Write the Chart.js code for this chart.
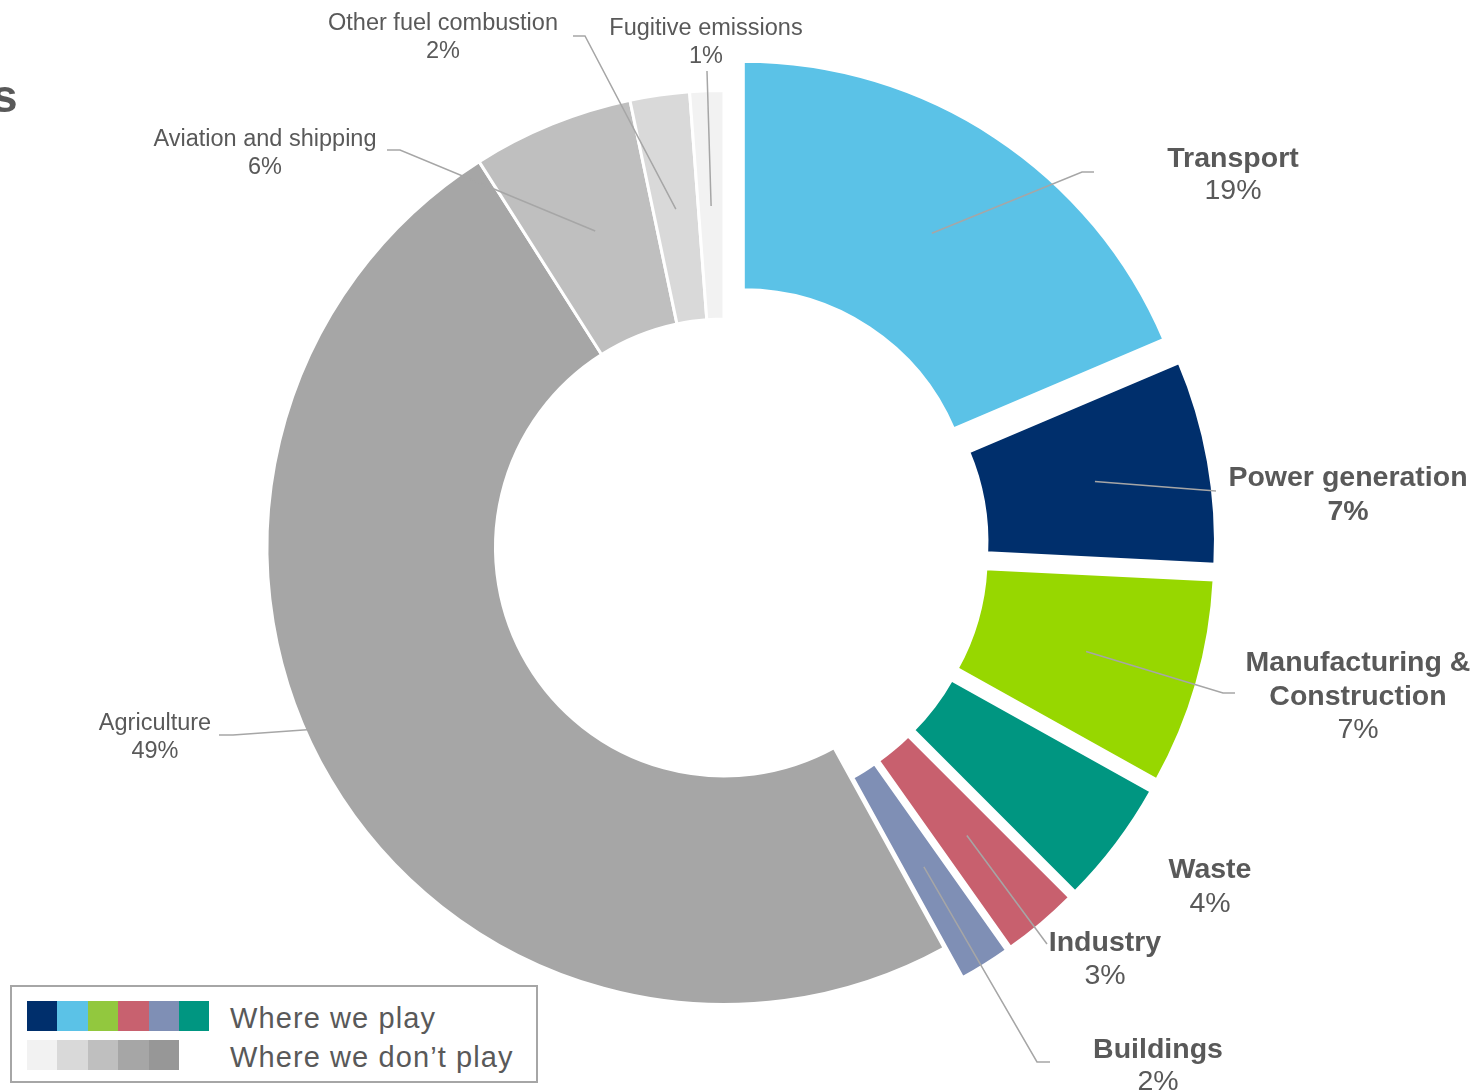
<!DOCTYPE html>
<html>
<head>
<meta charset="utf-8">
<script src="https://cdn.jsdelivr.net/npm/chart.js@4.4.1/dist/chart.umd.min.js"></script>
<style>
  html, body { margin:0; padding:0; background:#ffffff; }
  #wrap { position:relative; width:1478px; height:1091px; overflow:hidden; font-family:"Liberation Sans", Arial, sans-serif; }
  #chart { position:absolute; left:0; top:0; }
  #title { position:absolute; left:-8px; top:73px; font-weight:bold; font-size:46px; line-height:46px; color:#595959; white-space:nowrap; }
  #legend { position:absolute; left:10px; top:985px; width:524px; height:94px; border:2px solid #a6a6a6; background:#fff; }
  .row { position:absolute; left:15px; height:30px; display:flex; }
  .sw { width:30.4px; height:30px; }
  .ltxt { position:absolute; left:218px; font-size:29px; letter-spacing:1.1px; color:#595959; white-space:nowrap; line-height:28px; }
</style>
</head>
<body>
<div id="wrap">
  <canvas id="chart" width="1478" height="1091"></canvas>
  <div id="title">s</div>
  <div id="legend">
    <div class="row" id="row1" style="top:14px"></div>
    <div class="row" id="row2" style="top:53px"></div>
    <div class="ltxt" id="lt1" style="top:17px"></div>
    <div class="ltxt" id="lt2" style="top:56px"></div>
  </div>
</div>
<script>
// ---------------- data ----------------
const categories = ['Transport', 'Power generation', ['Manufacturing &', 'Construction'], 'Waste', 'Industry', 'Buildings',
                    'Agriculture', 'Aviation and shipping', 'Other fuel combustion', 'Fugitive emissions'];
const shares = [18.6, 7.2, 7.3, 4.4, 2.7, 1.8, 49.0, 5.7, 2.1, 1.2];
const legendLabels = ['Where we play', 'Where we don\u2019t play'];

// ---------------- styles ----------------
const sliceColors = ['#5BC2E7', '#002F6C', '#97D700', '#009681', '#C8606E', '#7F8FB5',
                     '#A6A6A6', '#BFBFBF', '#D9D9D9', '#F2F2F2'];
const legendPlay = ['#002F6C', '#5BC2E7', '#92C83E', '#C8616F', '#7F8FB5', '#009681'];
const legendNoPlay = ['#F2F2F2', '#D9D9D9', '#BFBFBF', '#A6A6A6', '#979797'];
const explodeDist = [35, 35, 35, 35, 35, 35, 0, 0, 0, 0];
const TEXT = '#595959', LEADER = '#A6A6A6';

// label layout: text centre x, first line cap-centre y, line height, size, bold flags, leader path (from slice outward)
const labelLayout = [
  { x:1233, y:157, lh:32, size:28.5, bold:[true,false], anchor:{frac:0.5}, path:[[1082,172],[1094,172]] },
  { x:1348, y:476, lh:34, size:28.5, bold:[true,true], anchor:{frac:0.5}, path:[[1216,491]] },
  { x:1358, y:661, lh:33.5, size:28.5, bold:[true,true,false], anchor:{frac:0.5}, path:[[1223,693],[1235,693]] },
  { x:1210, y:868, lh:34, size:28.5, bold:[true,false], anchor:null, path:[] },
  { x:1105, y:941, lh:33, size:28.5, bold:[true,false], anchor:{frac:0.5}, path:[[1047,944]] },
  { x:1158, y:1048, lh:32, size:28.5, bold:[true,false], anchor:{frac:0.5}, path:[[1037,1062],[1050,1062]] },
  { x:155, y:722, lh:28, size:23.5, bold:[false,false], anchor:{frac:1.0, deg:246.4}, path:[[233,735],[219,735]] },
  { x:265, y:138, lh:28, size:23.5, bold:[false,false], anchor:{frac:0.5}, path:[[400,150],[387,150]] },
  { x:443, y:22, lh:28, size:23.5, bold:[false,false], anchor:{frac:0.5}, path:[[585,36],[573,36]] },
  { x:706, y:27, lh:28, size:23.5, bold:[false,false], anchor:{frac:0.5}, path:[[707,71]] }
];

// ---------------- legend (HTML) ----------------
legendPlay.forEach(c => { const d = document.createElement('div'); d.className = 'sw'; d.style.background = c; document.getElementById('row1').appendChild(d); });
legendNoPlay.forEach(c => { const d = document.createElement('div'); d.className = 'sw'; d.style.background = c; document.getElementById('row2').appendChild(d); });
document.getElementById('lt1').textContent = legendLabels[0];
document.getElementById('lt2').textContent = legendLabels[1];

// ---------------- plugins ----------------
function explodeVec(arc, i) {
  const d = explodeDist[i] || 0;
  const mid = (arc.startAngle + arc.endAngle) / 2;
  return [Math.cos(mid) * d, Math.sin(mid) * d];
}

const explodePlugin = {
  id: 'explode',
  beforeDatasetDraw(chart, args) {
    const ctx = chart.ctx;
    args.meta.data.forEach((arc, i) => {
      const [dx, dy] = explodeVec(arc, i);
      ctx.save();
      ctx.translate(dx, dy);
      arc.draw(ctx, chart.chartArea);
      ctx.restore();
    });
    return false;
  }
};

const labelPlugin = {
  id: 'sliceLabels',
  afterDatasetsDraw(chart) {
    const ctx = chart.ctx;
    const meta = chart.getDatasetMeta(0);
    const values = chart.data.datasets[0].data;
    meta.data.forEach((arc, i) => {
      const L = labelLayout[i];
      if (!L) return;
      const [dx, dy] = explodeVec(arc, i);
      if (L.anchor) {
        const ang = (L.anchor.deg !== undefined) ? (L.anchor.deg * Math.PI / 180 - Math.PI / 2)
                                                 : (arc.startAngle + arc.endAngle) / 2;
        const inner = arc.innerRadius, outer = arc.outerRadius - 2;
        const r = inner + (outer - inner) * L.anchor.frac;
        const ax = arc.x + dx + Math.cos(ang) * r;
        const ay = arc.y + dy + Math.sin(ang) * r;
        ctx.save();
        ctx.strokeStyle = LEADER;
        ctx.lineWidth = 1.5;
        ctx.beginPath();
        ctx.moveTo(ax, ay);
        L.path.forEach(p => ctx.lineTo(p[0], p[1]));
        ctx.stroke();
        ctx.restore();
      }
      const name = chart.data.labels[i];
      const lines = (Array.isArray(name) ? name.slice() : [name]);
      lines.push(Math.round(values[i]) + '%');
      ctx.save();
      ctx.fillStyle = TEXT;
      ctx.textAlign = 'center';
      ctx.textBaseline = 'alphabetic';
      lines.forEach((t, k) => {
        ctx.font = (L.bold[k] ? 'bold ' : '') + L.size + 'px "Liberation Sans", Arial, sans-serif';
        ctx.fillText(t, L.x, L.y + k * L.lh + 0.358 * L.size);
      });
      ctx.restore();
    });
  }
};

// ---------------- chart ----------------
new Chart(document.getElementById('chart'), {
  type: 'doughnut',
  data: {
    labels: categories,
    datasets: [{
      data: shares,
      backgroundColor: sliceColors,
      borderColor: '#ffffff',
      borderWidth: 3,
      offset: 0,
      hoverOffset: 0
    }]
  },
  options: {
    responsive: false,
    maintainAspectRatio: false,
    animation: false,
    radius: 457,
    cutout: '50%',
    rotation: 0,
    layout: { padding: { left: 0, right: 30, top: 4, bottom: 0 } },
    plugins: { legend: { display: false }, tooltip: { enabled: false } },
    events: []
  },
  plugins: [explodePlugin, labelPlugin]
});
</script>
</body>
</html>
